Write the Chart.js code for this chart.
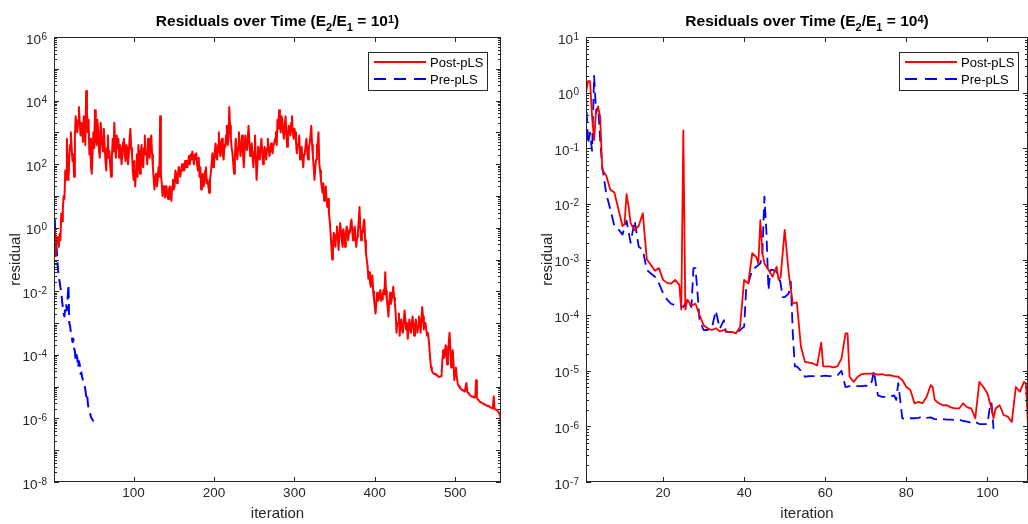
<!DOCTYPE html>
<html>
<head>
<meta charset="utf-8">
<script src="https://cdn.jsdelivr.net/npm/chart.js@4.4.0/dist/chart.umd.min.js"></script>
<style>
  html, body { margin: 0; padding: 0; background: #fff; }
  #wrap { position: relative; width: 1028px; height: 524px; overflow: hidden; }
  .pane { position: absolute; top: 0; width: 514px; height: 524px; }
</style>
</head>
<body>
<div id="wrap">
  <div class="pane" style="left:0"><canvas id="left"></canvas></div>
  <div class="pane" style="left:514px"><canvas id="right"></canvas></div>
</div>
<script>
// ---- data: left panel (E2/E1 = 10^1), one value per iteration starting at 1 ----
const postResL = [
  0.4, 0.8, 0.13, 0.5, 0.32, 0.5, 0.25, 0.63, 0.4, 2.8,             // 1-10
  1.6, 4, 10, 8, 63, 32, 630, 100, 32, 160,                          // 11-20
  400, 1000, 320, 126, 200, 40, 800, 3200, 1300, 1000,               // 21-30
  2500, 6300, 2000, 800, 2000, 1600, 500, 3200, 2000, 400,           // 31-40
  2e4, 4000, 1000, 2500, 200, 630, 80, 50, 250, 1000,                // 41-50
  320, 5000, 800, 400, 2500, 1000, 250, 160, 2000, 1000,             // 51-60
  400, 250, 1300, 400, 126, 63, 320, 800, 160, 250,                  // 61-70
  80, 40, 160, 630, 250, 2000, 400, 160, 800, 320,                   // 71-80
  630, 160, 400, 320, 100, 200, 500, 630, 200, 126,                  // 81-90
  400, 320, 100, 200, 630, 1300, 320, 200, 63, 32,                   // 91-100
  126, 20, 63, 200, 40, 400, 160, 50, 250, 400,                      // 101-110
  100, 80, 320, 800, 200, 250, 100, 630, 250, 160,                   // 111-120
  500, 800, 200, 80, 32, 16, 40, 50, 20, 32,                         // 121-130
  80, 40, 3200, 50, 25, 10, 20, 20, 9, 12.6,                         // 131-140
  20, 10, 8, 16, 20, 10, 7, 20, 32, 16,                              // 141-150
  20, 63, 50, 25, 40, 80, 80, 40, 63, 100,                           // 151-160
  63, 100, 63, 126, 80, 126, 80, 126, 180, 100,                      // 161-170
  200, 140, 250, 160, 100, 200, 140, 220, 100, 63,                   // 171-180
  160, 40, 80, 16, 32, 50, 20, 25, 63, 80,                           // 181-190
  25, 32, 20, 12.6, 32, 50, 100, 220, 80, 100,                       // 191-200
  250, 450, 160, 140, 400, 1000, 250, 180, 500, 630,                 // 201-210
  200, 140, 400, 350, 800, 1600, 400, 630, 6300, 1600,               // 211-220
  630, 320, 220, 100, 50, 160, 630, 400, 140, 320,                   // 221-230
  1000, 400, 180, 400, 800, 250, 80, 250, 800, 400,                  // 231-240
  280, 630, 1600, 500, 180, 320, 450, 160, 80, 250,                  // 241-250
  800, 160, 32, 100, 350, 200, 140, 320, 630, 250,                   // 251-260
  100, 200, 350, 200, 140, 320, 630, 320, 180, 250,                  // 261-270
  450, 320, 220, 400, 450, 630, 1000, 400, 2500, 1300,               // 271-280
  5000, 1600, 1000, 3200, 2500, 1000, 630, 1600, 3200, 1000,         // 281-290
  350, 800, 1600, 1000, 800, 2000, 3200, 1000, 630, 1300,            // 291-300
  1000, 500, 220, 400, 450, 800, 140, 250, 350, 160,                 // 301-310
  80, 200, 220, 400, 630, 250, 140, 320, 450, 800,                   // 311-320
  1600, 400, 180, 80, 32, 80, 140, 400, 450, 1000,                   // 321-330
  100, 63, 32, 20, 12.6, 25, 7, 10, 20, 8,                           // 331-340
  4.5, 8, 2.8, 1.6, 0.7, 0.25, 0.1, 0.32, 0.7, 0.32,                 // 341-350
  0.25, 0.63, 1.1, 0.5, 0.2, 0.63, 1.4, 0.8, 0.4, 0.25,              // 351-360
  0.9, 0.5, 0.25, 0.63, 1.1, 0.8, 0.4, 0.8, 0.7, 1.26,               // 361-370
  1.8, 0.8, 0.4, 0.8, 1.1, 0.5, 0.25, 0.5, 0.7, 1.6,                 // 371-380
  4.5, 1, 0.4, 0.8, 0.7, 1.4, 1.8, 0.4, 0.16, 0.1,                   // 381-390
  0.063, 0.025, 0.04, 0.02, 0.014, 0.025, 0.032, 0.01, 0.0056, 0.0032, // 391-400
  0.002, 0.005, 0.009, 0.005, 0.0056, 0.008, 0.011, 0.005, 0.0056, 0.008, // 401-410
  0.011, 0.008, 0.04, 0.01, 0.0056, 0.0032, 0.0016, 0.005, 0.009, 0.004,  // 411-420
  0.0056, 0.008, 0.014, 0.0063, 0.0045, 0.002, 5e-4, 1e-3, 1e-3, 2e-3,    // 421-430
  4e-4, 8e-4, 1.3e-3, 6.3e-4, 5e-4, 1e-3, 2.5e-3, 1.3e-3, 6.3e-4, 1e-3,   // 431-440
  3.2e-4, 6.3e-4, 1.3e-3, 8e-4, 5e-4, 1e-3, 1.6e-3, 8e-4, 4e-4, 8e-4,     // 441-450
  1.3e-3, 1e-3, 5e-4, 8e-4, 1.6e-3, 1e-3, 5e-4, 1.3e-3, 3.2e-3, 1.6e-3,   // 451-460
  6.3e-4, 1e-3, 1e-3, 6.3e-4, 4e-4, 5e-4, 3.2e-4, 1.6e-4, 7e-5, 4e-5,     // 461-470
  3.2e-5, 2.8e-5, 2.6e-5, 2.5e-5, 2.5e-5, 2.4e-5, 2.3e-5, 2.2e-5, 2.1e-5, 2e-5, // 471-480
  2e-5, 2.1e-5, 2.2e-5, 6.3e-5, 1.4e-4, 8e-5, 9e-5, 2e-4, 1.8e-4, 5e-5,   // 481-490
  7e-5, 2.5e-4, 5e-4, 1.6e-4, 4e-5, 1e-4, 1.4e-4, 5e-5, 1.6e-5, 3.2e-5,   // 491-500
  4e-5, 2e-5, 1.3e-5, 1.1e-5, 1e-5, 9e-6, 8.5e-6, 8e-6, 8e-6, 7.6e-6,     // 501-510
  7.3e-6, 7e-6, 1e-5, 1.3e-5, 7e-6, 6.3e-6, 6e-6, 5.6e-6, 5.3e-6, 5e-6,   // 511-520
  4.9e-6, 4.8e-6, 4.6e-6, 4.5e-6, 5e-6, 1.6e-5, 4.5e-6, 4e-6, 3.8e-6, 3.5e-6, // 521-530
  3.3e-6, 3.2e-6, 3.1e-6, 3e-6, 2.9e-6, 2.8e-6, 2.7e-6, 2.6e-6, 2.55e-6, 2.5e-6, // 531-540
  2.45e-6, 2.4e-6, 2.3e-6, 2.2e-6, 2.15e-6, 2.1e-6, 2.5e-6, 5e-6, 2e-6, 1.9e-6, // 541-550
  1.85e-6, 1.8e-6, 1.7e-6, 1.6e-6, 1.4e-6, 1.26e-6, 5e-7                  // 551-557
];
const preResL = [
  0.63, 2.0, 0.13, 0.32, 0.1, 0.05, 0.028, 0.02, 0.013, 0.01,
  0.005, 0.0032, 0.002, 0.0016, 0.0032, 0.004, 0.0025, 0.0063, 0.016, 0.001,
  8e-4, 5e-4, 4e-4, 2.5e-4, 3.2e-4, 1.6e-4, 1.3e-4, 6.3e-5, 1e-4, 8e-5,
  4e-5, 6.3e-5, 5e-5, 2.5e-5, 2.8e-5, 2e-5, 1.6e-5, 1.3e-5, 1.1e-5, 8e-6,
  5e-6, 6.3e-6, 3.2e-6, 2e-6, 1.6e-6, 1.4e-6, 1.1e-6, 1e-6, 9e-7, 8e-7
];

// ---- data: right panel (E2/E1 = 10^4) ----
const postItR = [
  1, 1.5, 2, 2.5, 3, 3.5, 4, 4.5, 5, 6,
  7, 8, 9, 10, 10.5, 11, 11.5, 12, 13, 14,
  15, 16, 17, 18, 19, 20, 21, 22, 23, 24,
  24.5, 25, 25.5, 26, 27, 28, 29, 30, 31, 32,
  33, 34, 35, 36, 37, 38, 39, 40, 41, 42,
  43, 43.5, 44, 44.5, 45, 46, 47, 48, 48.5, 49,
  50, 51, 52, 53, 54, 55, 56, 57, 58, 59,
  59.5, 60, 61, 62, 63, 64, 65, 65.5, 66, 67,
  68, 69, 70, 71, 72, 73, 74, 75, 76, 77,
  78, 79, 80, 81, 82, 83, 84, 85, 86, 86.5,
  87, 88, 89, 90, 91, 92, 93, 94, 95, 96,
  97, 98, 99, 100, 101, 101.5, 102, 103, 104, 105,
  106, 107, 108, 109, 109.5, 110
];
const postResR = [
  1.0, 1.6, 1.6, 0.37, 0.14, 0.5, 0.54, 0.37, 0.041, 0.032,
  0.018, 0.016, 0.008, 0.004, 0.0043, 0.015, 0.009, 0.0045, 0.0034, 0.004,
  0.0068, 0.001, 8e-4, 6.3e-4, 7e-4, 4.3e-4, 3.8e-4, 3.7e-4, 4.3e-4, 3.5e-4,
  1.26e-4, 0.21, 1.26e-4, 1.9e-4, 1.5e-4, 1.6e-4, 1e-4, 6.6e-5, 5.8e-5, 5.4e-5,
  5.8e-5, 5.1e-5, 5.4e-5, 5e-5, 5e-5, 4.7e-5, 6.2e-5, 4.3e-4, 3.7e-4, 1.3e-3,
  1.1e-3, 8.5e-4, 5.1e-3, 1.3e-3, 8.5e-4, 6.5e-4, 4.9e-4, 7.4e-4, 4.3e-4, 4.9e-4,
  3.4e-3, 5.6e-4, 1.6e-4, 1.7e-4, 2.7e-5, 1.45e-5, 1.4e-5, 1.35e-5, 1.25e-5, 3.2e-5,
  1.2e-5, 1.2e-5, 1.2e-5, 1.15e-5, 1.2e-5, 1.65e-5, 4.7e-5, 4.7e-5, 7.8e-6, 6.3e-6,
  7.8e-6, 8.7e-6, 8.9e-6, 8.9e-6, 8.9e-6, 8.5e-6, 8.7e-6, 8.3e-6, 8.3e-6, 8e-6,
  7.8e-6, 6.8e-6, 5.1e-6, 4.5e-6, 2.6e-6, 2.75e-6, 2.6e-6, 3.4e-6, 5.5e-6, 5.1e-6,
  3e-6, 2.6e-6, 2.4e-6, 2.4e-6, 2.2e-6, 2.1e-6, 2.1e-6, 2.6e-6, 2.2e-6, 2.1e-6,
  1.4e-6, 6.3e-6, 5.1e-6, 3.9e-6, 2.1e-6, 1.4e-6, 2.1e-6, 2.4e-6, 1.6e-6, 1.5e-6,
  1.2e-6, 5.1e-6, 4.2e-6, 6.3e-6, 5.9e-6, 1e-6
];
const preItR = [
  1, 1.5, 2, 2.5, 3, 3.5, 4, 4.5, 5, 6,
  7, 8, 9, 10, 11, 12, 13, 14, 15, 16,
  17, 18, 19, 20, 21, 22, 23, 24, 25, 26,
  27, 27.5, 28, 28.5, 29, 30, 31, 32, 33, 34,
  35, 35.5, 36, 37, 38, 39, 40, 40.5, 41, 42,
  43, 44, 44.5, 45, 45.5, 46, 46.5, 47, 48, 48.5,
  49, 49.5, 50, 51, 51.5, 52, 52.5, 53, 54, 55,
  56, 57, 58, 59, 60, 61, 62, 63, 64, 65,
  66, 67, 68, 69, 70, 71, 71.5, 72, 72.5, 73,
  74, 75, 76, 77, 77.5, 78, 79, 80, 81, 82,
  83, 84, 85, 86, 87, 88, 89, 90, 91, 92,
  93, 94, 95, 96, 97, 98, 99, 100, 100.5, 101, 101.5
];
const preResR = [
  0.9, 0.12, 0.19, 0.09, 2.0, 0.43, 0.56, 0.14, 0.047, 0.015,
  0.008, 0.004, 0.0035, 0.0028, 0.005, 0.002, 0.005, 0.0017, 0.0015, 6.5e-4,
  5.6e-4, 4.9e-4, 3.7e-4, 2.5e-4, 1.9e-4, 1.6e-4, 1.5e-4, 1.5e-4, 1.4e-4, 1.9e-4,
  1.4e-4, 7e-4, 7e-4, 2.5e-4, 8.1e-5, 5.4e-5, 5.4e-5, 5.7e-5, 1.2e-4, 5.7e-5,
  8.1e-5, 5e-5, 5e-5, 5e-5, 4.7e-5, 5.4e-5, 6.2e-5, 3e-4, 3.7e-4, 6.5e-4,
  7.4e-4, 8.5e-4, 1.3e-3, 1.35e-2, 3e-3, 2.8e-4, 6.5e-4, 6.5e-4, 6e-4, 5.2e-4,
  3.7e-4, 2.1e-4, 2.1e-4, 2.45e-4, 4e-4, 4.7e-5, 1.2e-5, 1.2e-5, 1e-5, 7.8e-6,
  8e-6, 8e-6, 8e-6, 8e-6, 8.2e-6, 8e-6, 8e-6, 8.2e-6, 1e-5, 5.1e-6,
  5.3e-6, 5.3e-6, 5.3e-6, 5.3e-6, 5.4e-6, 5.3e-6, 6.5e-6, 1e-5, 5.7e-6, 3.6e-6,
  3.4e-6, 3.4e-6, 3.4e-6, 3.6e-6, 3e-6, 6e-6, 1.4e-6, 1.35e-6, 1.4e-6, 1.4e-6,
  1.42e-6, 1.5e-6, 1.42e-6, 1.45e-6, 1.35e-6, 1.32e-6, 1.35e-6, 1.32e-6, 1.32e-6, 1.3e-6,
  1.32e-6, 1.25e-6, 1.22e-6, 1.15e-6, 1.2e-6, 1.1e-6, 1.1e-6, 1.1e-6, 2e-6, 2.7e-6, 9e-7
];

// ---- tick labels ----
const xTicksL = [100, 200, 300, 400, 500];
const xTicksR = [20, 40, 60, 80, 100];
const yDecadesL = [1e-8, 1e-6, 1e-4, 1e-2, 1e0, 1e2, 1e4, 1e6];
const yDecadesR = [1e-7, 1e-6, 1e-5, 1e-4, 1e-3, 1e-2, 1e-1, 1e0, 1e1];

const AXIS_COLOR = '#262626';
const FONT = '"Liberation Sans", Arial, Helvetica, sans-serif';

// box, inward ticks on all four sides and 10^n labels, matlab style
const matlabFrame = {
  id: 'matlabFrame',
  afterDraw(chart) {
    const {ctx, chartArea: a, scales: {x, y}} = chart;
    ctx.save();
    ctx.strokeStyle = AXIS_COLOR;
    ctx.lineWidth = 1;
    ctx.strokeRect(a.left + 0.5, a.top + 0.5, a.right - a.left - 1, a.bottom - a.top - 1);
    ctx.beginPath();
    x.ticks.forEach(t => {
      const px = Math.round(x.getPixelForValue(t.value)) + 0.5;
      ctx.moveTo(px, a.bottom); ctx.lineTo(px, a.bottom - 5);
      ctx.moveTo(px, a.top); ctx.lineTo(px, a.top + 5);
    });
    const lo = Math.round(Math.log10(y.min));
    const hi = Math.round(Math.log10(y.max));
    for (let e = lo; e <= hi; e++) {
      for (let m = 1; m <= 9; m++) {
        const v = m * Math.pow(10, e);
        if (v > y.max * 1.0001) break;
        const py = Math.round(y.getPixelForValue(v)) + 0.5;
        const len = m === 1 ? 5 : 3;
        ctx.moveTo(a.left, py); ctx.lineTo(a.left + len, py);
        ctx.moveTo(a.right, py); ctx.lineTo(a.right - len, py);
      }
    }
    ctx.stroke();

    // y tick labels "10" with a raised exponent
    ctx.fillStyle = AXIS_COLOR;
    ctx.textAlign = 'left';
    ctx.textBaseline = 'alphabetic';
    y.ticks.forEach(t => {
      const exp = String(Math.round(Math.log10(t.value)));
      const py = y.getPixelForValue(t.value);
      ctx.font = '10px ' + FONT;
      const we = ctx.measureText(exp).width;
      ctx.font = '13.5px ' + FONT;
      const wb = ctx.measureText('10').width;
      const xr = a.left - 7;
      ctx.fillText('10', xr - we - wb - 0.5, py + 6.5);
      ctx.font = '10px ' + FONT;
      ctx.fillText(exp, xr - we, py + 2.5);
    });
    ctx.restore();
  }
};

// bold title with sub/superscripts
const matlabTitle = {
  id: 'matlabTitle',
  afterDraw(chart, args, opts) {
    const {ctx, chartArea: a} = chart;
    const parts = opts.parts;
    const fontFor = p => 'bold ' + (p.s ? 11 : 15.5) + 'px ' + FONT;
    ctx.save();
    let total = 0;
    parts.forEach(p => { ctx.font = fontFor(p); total += ctx.measureText(p.t).width; });
    let x = (a.left + a.right) / 2 - total / 2;
    const base = 25.5;
    ctx.fillStyle = '#000';
    ctx.textBaseline = 'alphabetic';
    ctx.textAlign = 'left';
    parts.forEach(p => {
      ctx.font = fontFor(p);
      const dy = p.s === -1 ? 5.5 : p.s === 1 ? -3 : 0;
      ctx.fillText(p.t, x, base + dy);
      x += ctx.measureText(p.t).width;
    });
    ctx.restore();
  }
};

// legend box in the top right corner of the axes
const matlabLegend = {
  id: 'matlabLegend',
  afterDraw(chart, args, opts) {
    const {ctx, chartArea: a} = chart;
    const w = 119, h = 38;
    const bx = a.right - opts.right - w, by = a.top + 15;
    ctx.save();
    ctx.fillStyle = '#fff';
    ctx.fillRect(bx, by, w, h);
    ctx.strokeStyle = AXIS_COLOR;
    ctx.lineWidth = 1;
    ctx.strokeRect(bx + 0.5, by + 0.5, w, h);
    chart.data.datasets.forEach((ds, i) => {
      const ly = by + 10 + i * 17;
      ctx.strokeStyle = ds.borderColor;
      ctx.lineWidth = 2;
      ctx.setLineDash(ds.borderDash ? [12, 8] : []);
      ctx.beginPath();
      ctx.moveTo(bx + 6, ly); ctx.lineTo(bx + 58, ly);
      ctx.stroke();
      ctx.setLineDash([]);
      ctx.fillStyle = '#000';
      ctx.font = '13px ' + FONT;
      ctx.textBaseline = 'alphabetic';
      ctx.fillText(ds.label, bx + 62, by + 15 + i * 17);
    });
    ctx.restore();
  }
};

function titleParts(exp) {
  return [
    {t: 'Residuals over Time (E'}, {t: '2', s: -1}, {t: '/E'}, {t: '1', s: -1},
    {t: ' = 10'}, {t: exp, s: 1}, {t: ')'}
  ];
}

function makeChart(id, c) {
  return new Chart(document.getElementById(id), {
    type: 'line',
    data: {
      datasets: [
        { label: 'Post-pLS', data: c.post, borderColor: '#ff0000', borderWidth: c.lw,
          pointRadius: 0, tension: 0, borderJoinStyle: 'round' },
        { label: 'Pre-pLS', data: c.pre, borderColor: '#0000ff', borderWidth: c.lw,
          borderDash: [11, 6], pointRadius: 0, tension: 0, borderJoinStyle: 'round' }
      ]
    },
    options: {
      responsive: true,
      maintainAspectRatio: false,
      animation: false,
      events: [],
      layout: { padding: { left: 0, top: 37, right: c.padRight, bottom: 0 } },
      plugins: {
        legend: { display: false },
        tooltip: { enabled: false },
        matlabTitle: { parts: titleParts(c.exp) },
        matlabLegend: { right: c.legRight }
      },
      scales: {
        x: {
          type: 'linear', min: c.xMin, max: c.xMax,
          afterBuildTicks: s => { s.ticks = c.xTicks.map(v => ({ value: v })); },
          afterFit: s => { s.height = 42; },
          grid: { display: false, drawTicks: false },
          border: { display: false },
          ticks: { color: AXIS_COLOR, font: { family: FONT, size: 13.5 }, padding: 3,
                   maxRotation: 0, autoSkip: false },
          title: { display: true, text: 'iteration', color: AXIS_COLOR,
                   font: { family: FONT, size: 15 }, padding: { top: 0, bottom: 1 } }
        },
        y: {
          type: 'logarithmic', min: c.yTicks[0], max: c.yTicks[c.yTicks.length - 1],
          afterBuildTicks: s => { s.ticks = c.yTicks.map(v => ({ value: v })); },
          afterFit: s => { s.width = c.yWidth; },
          grid: { display: false, drawTicks: false },
          border: { display: false },
          ticks: { display: false },
          title: { display: true, text: 'residual', color: AXIS_COLOR,
                   font: { family: FONT, size: 15 }, padding: { top: c.yTitlePad, bottom: 0 } }
        }
      }
    },
    plugins: [matlabFrame, matlabTitle, matlabLegend]
  });
}

makeChart('left', {
  post: postResL.map((v, i) => ({ x: i + 1, y: v })),
  pre: preResL.map((v, i) => ({ x: i + 1, y: v })),
  xMin: 1, xMax: 557, xTicks: xTicksL, yTicks: yDecadesL,
  exp: '1', lw: 2, padRight: 13, yWidth: 54, yTitlePad: 7, legRight: 14
});

makeChart('right', {
  post: postItR.map((x, i) => ({ x: x, y: postResR[i] })),
  pre: preItR.map((x, i) => ({ x: x, y: preResR[i] })),
  xMin: 1, xMax: 110, xTicks: xTicksR, yTicks: yDecadesR,
  exp: '4', lw: 1.8, padRight: 0, yWidth: 72, yTitlePad: 25, legRight: 10
});
</script>
</body>
</html>
